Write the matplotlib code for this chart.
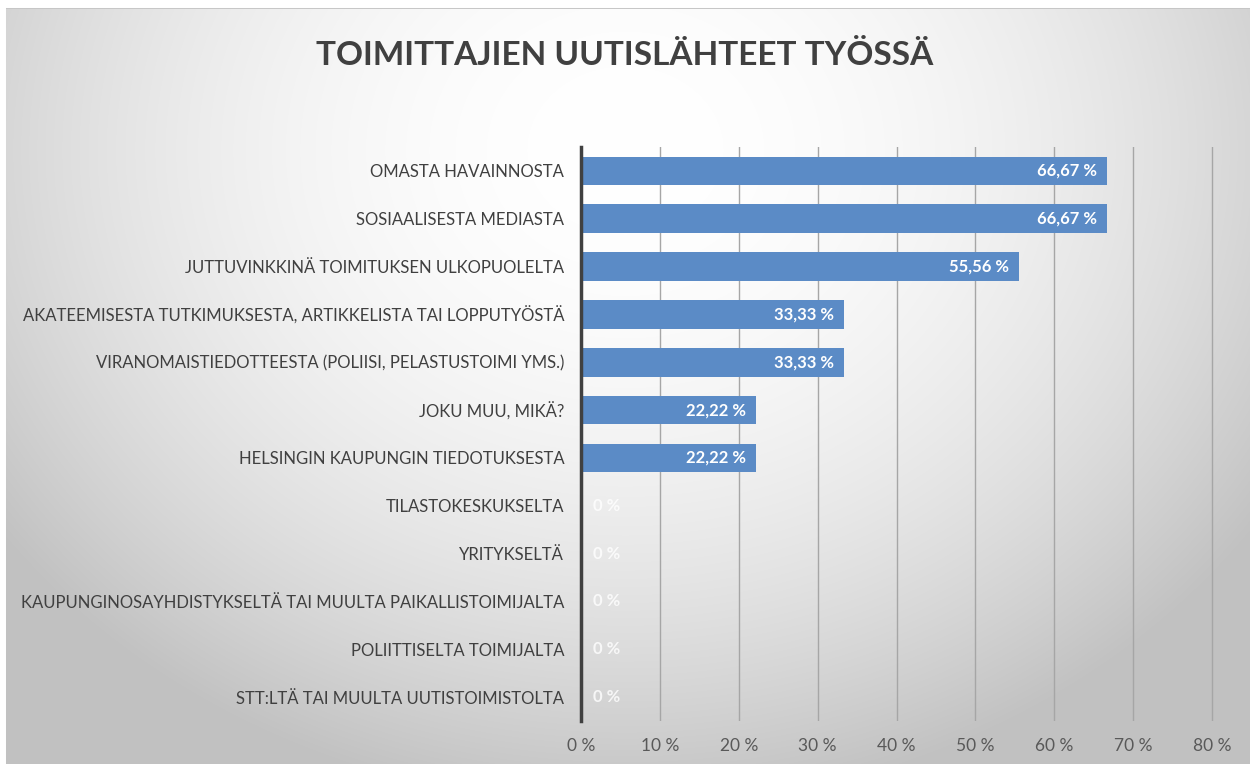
import matplotlib.pyplot as plt
import numpy as np

categories = [
    'OMASTA HAVAINNOSTA',
    'SOSIAALISESTA MEDIASTA',
    'JUTTUVINKKINÄ TOIMITUKSEN ULKOPUOLELTA',
    'AKATEEMISESTA TUTKIMUKSESTA, ARTIKKELISTA TAI LOPPUTYÖSTÄ',
    'VIRANOMAISTIEDOTTEESTA (POLIISI, PELASTUSTOIMI YMS.)',
    'JOKU MUU, MIKÄ?',
    'HELSINGIN KAUPUNGIN TIEDOTUKSESTA',
    'TILASTOKESKUKSELTA',
    'YRITYKSELTÄ',
    'KAUPUNGINOSAYHDISTYKSELTÄ TAI MUULTA PAIKALLISTOIMIJALTA',
    'POLIITTISELTA TOIMIJALTA',
    'STT:LTÄ TAI MUULTA UUTISTOIMISTOLTA',
]
values = [66.67, 66.67, 55.56, 33.33, 33.33, 22.22, 22.22, 0, 0, 0, 0, 0]
value_labels = ['66,67 %', '66,67 %', '55,56 %', '33,33 %', '33,33 %',
                '22,22 %', '22,22 %', '0 %', '0 %', '0 %', '0 %', '0 %']
xticks = [0, 10, 20, 30, 40, 50, 60, 70, 80]
xtick_labels = ['%d %%' % t for t in xticks]
title = 'TOIMITTAJIEN UUTISLÄHTEET TYÖSSÄ'

W, H = 1250, 764
fig = plt.figure(figsize=(W / 100, H / 100), dpi=100)

# radial grey background like the Excel chart area
yy, xx = np.mgrid[0:H, 0:W]
d2 = ((xx - 625) / 700.0) ** 2 + ((yy - 150) / 600.0) ** 2
bg = np.clip(1 - 0.2 * d2, 0.76, 1.0)
bg[:8, :] = 1.0
bg[8, 6:] = 0.78
bg[:, :6] = 1.0
bgax = fig.add_axes([0, 0, 1, 1])
bgax.imshow(np.dstack([bg, bg, bg]), aspect='auto', interpolation='bilinear')
bgax.set_axis_off()

x0, x80 = 581, 1212
xmax = 80.3
right = x0 + (x80 - x0) * xmax / 80
ax = fig.add_axes([x0 / W, 1 - 721 / H, (right - x0) / W, (721 - 147) / H])
ax.patch.set_alpha(0)

font = ['Lato', 'DejaVu Sans']
y = np.arange(len(categories))
ax.barh(y, values, height=0.6, color='#5b8bc6', zorder=3)
for yi, v, lab in zip(y, values, value_labels):
    if v > 0:
        ax.text(v - 1.3, yi, lab, ha='right', va='center', color='white',
                fontsize=12, fontweight='bold', family=font, zorder=4)
    else:
        ax.text(1.5, yi, lab, ha='left', va='center', color='white',
                fontsize=12, fontweight='bold', family=font, alpha=0.8, zorder=4)

ax.set_xlim(0, xmax)
ax.set_ylim(len(categories) - 0.5, -0.5)
ax.set_xticks(xticks)
ax.set_xticklabels(xtick_labels, family=font, fontsize=12.5, color='#595959')
ax.set_yticks(y)
ax.set_yticklabels(categories, family=font, fontsize=12, color='#404040')
ax.tick_params(axis='both', length=0)
ax.tick_params(axis='y', pad=12)
ax.tick_params(axis='x', pad=12)
ax.xaxis.grid(True, color='#a6a6a6', linewidth=1, zorder=0)
for s in ['top', 'right', 'bottom']:
    ax.spines[s].set_visible(False)
ax.spines['left'].set_color('#404040')
ax.spines['left'].set_linewidth(2.5)
ax.spines['left'].set_zorder(5)

fig.text(625 / W, 1 - 55 / H, title, ha='center', va='center',
         fontsize=24, fontweight='bold', color='#404040', family=font)

fig.savefig('out.png', dpi=100)
